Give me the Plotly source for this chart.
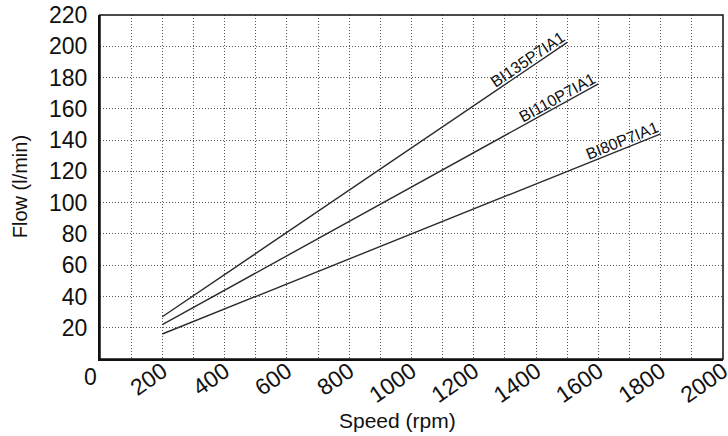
import math
import plotly.graph_objects as go

# speed (rpm) and flow (l/min) for each pump model
models = ["BI135P7IA1", "BI110P7IA1", "BI80P7IA1"]
speed_start = [200, 200, 200]
speed_end = [1500, 1600, 1800]
flow_start = [27, 22, 16]
flow_end = [202.5, 176, 144]

x_ticks = [200, 400, 600, 800, 1000, 1200, 1400, 1600, 1800, 2000]
y_ticks = [20, 40, 60, 80, 100, 120, 140, 160, 180, 200, 220]

FONT = "Liberation Sans, Arial, sans-serif"
W, H = 728, 436
M = dict(l=100, r=5, t=15, b=77)
plot_w = W - M["l"] - M["r"]
plot_h = H - M["t"] - M["b"]
sx = plot_w / 2000  # px per rpm
sy = plot_h / 220  # px per l/min

fig = go.Figure()

annotations = []
for name, x0, x1, y0, y1 in zip(models, speed_start, speed_end, flow_start, flow_end):
    fig.add_trace(
        go.Scatter(
            x=[x0, x1],
            y=[y0, y1],
            mode="lines",
            line=dict(color="#2b2b2b", width=1.4),
            name=name,
            showlegend=False,
            hoverinfo="skip",
        )
    )
    # label sits on top of the line end, rotated along it
    ang = math.atan2((y1 - y0) * sy, (x1 - x0) * sx)
    fsize = 16
    half = 0.53 * fsize * len(name) / 2
    xc = x1 - half * math.cos(ang) / sx
    yc = y1 - half * math.sin(ang) / sy
    d = 8
    annotations.append(
        dict(
            x=xc,
            y=yc,
            text=name,
            showarrow=False,
            textangle=-math.degrees(ang),
            xanchor="center",
            yanchor="middle",
            xshift=-d * math.sin(ang),
            yshift=d * math.cos(ang),
            font=dict(family=FONT, size=fsize, color="#111"),
        )
    )

# origin label and axis titles
annotations += [
    dict(x=-0.016, y=-0.052, xref="paper", yref="paper", text="0", showarrow=False,
         xanchor="center", yanchor="middle", font=dict(family=FONT, size=23, color="#111")),
    dict(x=0.477, y=-0.18, xref="paper", yref="paper", text="Speed (rpm)", showarrow=False,
         xanchor="center", yanchor="middle", font=dict(family=FONT, size=21, color="#111")),
    dict(x=-0.128, y=0.5, xref="paper", yref="paper", text="Flow (l/min)", showarrow=False,
         textangle=-90, xanchor="center", yanchor="middle",
         font=dict(family=FONT, size=20, color="#111")),
]

grid_style = dict(showgrid=True, gridcolor="#555", gridwidth=1, griddash="1px,2px")

fig.update_xaxes(
    range=[0, 2000],
    tickvals=x_ticks,
    tickangle=-35,
    ticks="",
    ticklabelstandoff=-12,
    ticklabeloverflow="allow",
    tickfont=dict(family=FONT, size=23, color="#111"),
    showline=True,
    linecolor="#111",
    linewidth=2,
    zeroline=False,
    automargin=False,
    minor=dict(dtick=100, tick0=0, **grid_style),
    **grid_style,
)
fig.update_yaxes(
    range=[0, 220],
    tickvals=y_ticks,
    ticks="",
    ticklabelstandoff=6,
    ticklabeloverflow="allow",
    tickfont=dict(family=FONT, size=23, color="#111"),
    showline=True,
    linecolor="#111",
    linewidth=2,
    zeroline=False,
    automargin=False,
    **grid_style,
)

# thin frame on top/right
fig.add_shape(type="rect", xref="paper", yref="paper", x0=0, y0=0, x1=1, y1=1,
              line=dict(color="#111", width=1.5), layer="above")

fig.update_layout(
    width=W,
    height=H,
    margin=M,
    plot_bgcolor="white",
    paper_bgcolor="white",
    annotations=annotations,
    font=dict(family=FONT),
)

# page body has a default 8px margin; drop it so the figure fills the window
fig.write_html(
    "out.html",
    config={"displayModeBar": False},
    post_script="document.body.style.margin='0';",
)
